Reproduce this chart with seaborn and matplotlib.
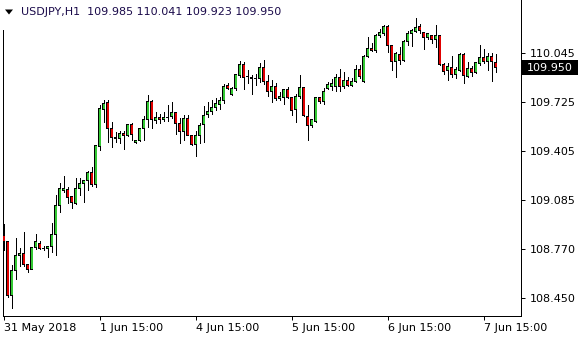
import numpy as np
import pandas as pd
import matplotlib
matplotlib.use("Agg")
import matplotlib.pyplot as plt
import matplotlib.transforms as mtransforms
from matplotlib.patches import Rectangle, Polygon
import seaborn as sns

symbol = "USDJPY,H1"

opens = [108.854, 108.821, 108.468, 108.628, 108.726, 108.737, 108.671, 108.637, 108.778, 108.806,
         108.773, 108.770, 108.784, 108.865, 109.053, 109.153, 109.158, 109.108, 109.064, 109.160,
         109.194, 109.212, 109.268, 109.186, 109.435, 109.680, 109.724, 109.555, 109.490, 109.490,
         109.522, 109.507, 109.581, 109.464, 109.474, 109.555, 109.609, 109.731, 109.607, 109.628,
         109.614, 109.627, 109.630, 109.659, 109.587, 109.533, 109.620, 109.511, 109.448, 109.508,
         109.578, 109.643, 109.663, 109.690, 109.711, 109.739, 109.836, 109.778, 109.811, 109.897,
         109.967, 109.889, 109.887, 109.876, 109.879, 109.952, 109.859, 109.794, 109.830, 109.747,
         109.758, 109.809, 109.757, 109.674, 109.762, 109.822, 109.634, 109.573, 109.599, 109.757,
         109.729, 109.814, 109.830, 109.827, 109.887, 109.830, 109.867, 109.835, 109.861, 109.939,
         109.859, 110.022, 110.076, 110.060, 110.158, 110.169, 110.216, 110.097, 109.988, 110.038,
         109.996, 110.120, 110.172, 110.184, 110.216, 110.177, 110.146, 110.162, 110.134, 110.156,
         109.971, 109.930, 109.952, 109.906, 109.934, 110.037, 109.895, 109.945, 109.917, 109.978,
         110.017, 109.988, 110.025, 109.985]

highs = [108.930, 108.823, 108.665, 108.839, 108.774, 108.882, 108.672, 108.784, 108.865, 108.823,
         108.788, 108.790, 108.936, 109.121, 109.197, 109.244, 109.171, 109.110, 109.229, 109.233,
         109.218, 109.277, 109.305, 109.446, 109.706, 109.739, 109.739, 109.598, 109.529, 109.537,
         109.537, 109.583, 109.587, 109.479, 109.559, 109.635, 109.772, 109.739, 109.661, 109.646,
         109.663, 109.706, 109.726, 109.660, 109.622, 109.641, 109.641, 109.512, 109.537, 109.589,
         109.700, 109.726, 109.742, 109.749, 109.760, 109.843, 109.851, 109.822, 109.908, 109.993,
         109.987, 109.934, 109.900, 109.908, 109.980, 110.002, 109.900, 109.869, 109.850, 109.791,
         109.809, 109.824, 109.758, 109.781, 109.900, 109.823, 109.704, 109.610, 109.758, 109.761,
         109.817, 109.856, 109.878, 109.910, 109.944, 109.921, 109.889, 109.879, 109.970, 109.964,
         110.029, 110.146, 110.110, 110.169, 110.204, 110.230, 110.230, 110.098, 110.051, 110.081,
         110.132, 110.190, 110.203, 110.271, 110.234, 110.178, 110.177, 110.163, 110.227, 110.157,
         109.977, 109.982, 110.025, 109.952, 110.047, 110.047, 109.988, 109.960, 109.988, 110.097,
         110.069, 110.047, 110.043, 110.041]

lows = [108.763, 108.458, 108.387, 108.572, 108.660, 108.660, 108.617, 108.636, 108.769, 108.769,
        108.763, 108.719, 108.751, 108.730, 109.012, 109.142, 109.070, 109.034, 109.063, 109.121,
        109.073, 109.153, 109.181, 109.173, 109.414, 109.598, 109.464, 109.431, 109.464, 109.457,
        109.420, 109.505, 109.479, 109.457, 109.470, 109.479, 109.560, 109.559, 109.587, 109.587,
        109.602, 109.602, 109.619, 109.518, 109.462, 109.479, 109.508, 109.446, 109.372, 109.459,
        109.464, 109.630, 109.648, 109.674, 109.678, 109.718, 109.811, 109.772, 109.804, 109.891,
        109.811, 109.848, 109.778, 109.834, 109.853, 109.840, 109.768, 109.729, 109.739, 109.737,
        109.716, 109.752, 109.640, 109.596, 109.751, 109.632, 109.478, 109.563, 109.596, 109.719,
        109.713, 109.809, 109.804, 109.796, 109.796, 109.815, 109.833, 109.830, 109.856, 109.879,
        109.856, 110.019, 110.056, 110.052, 110.149, 110.162, 110.053, 109.934, 109.891, 109.973,
        109.995, 110.094, 110.091, 110.183, 110.173, 110.070, 110.134, 110.108, 110.086, 109.966,
        109.908, 109.869, 109.891, 109.880, 109.928, 109.848, 109.891, 109.895, 109.913, 109.967,
        109.978, 109.934, 109.865, 109.923]

closes = [108.821, 108.463, 108.632, 108.729, 108.737, 108.669, 108.637, 108.780, 108.815, 108.773,
          108.775, 108.787, 108.865, 109.055, 109.164, 109.161, 109.106, 109.070, 109.164, 109.197,
          109.212, 109.268, 109.186, 109.440, 109.685, 109.718, 109.555, 109.496, 109.498, 109.522,
          109.507, 109.581, 109.516, 109.477, 109.555, 109.609, 109.731, 109.609, 109.626, 109.614,
          109.628, 109.628, 109.659, 109.587, 109.533, 109.620, 109.509, 109.448, 109.511, 109.576,
          109.641, 109.667, 109.693, 109.713, 109.739, 109.830, 109.815, 109.815, 109.902, 109.967,
          109.887, 109.891, 109.882, 109.879, 109.952, 109.859, 109.794, 109.830, 109.747, 109.765,
          109.809, 109.755, 109.671, 109.762, 109.822, 109.635, 109.573, 109.609, 109.757, 109.729,
          109.794, 109.841, 109.845, 109.887, 109.825, 109.867, 109.835, 109.861, 109.939, 109.889,
          110.022, 110.076, 110.061, 110.162, 110.180, 110.217, 110.095, 109.988, 110.040, 109.999,
          110.122, 110.173, 110.190, 110.214, 110.193, 110.143, 110.169, 110.134, 110.156, 109.967,
          109.923, 109.960, 109.906, 109.939, 110.037, 109.897, 109.945, 109.917, 109.982, 110.017,
          109.988, 110.025, 109.988, 109.950]

tick_bars = [0, 24, 48, 72, 96, 120]
tick_labels = ["31 May 2018", "1 Jun 15:00", "4 Jun 15:00", "5 Jun 15:00", "6 Jun 15:00", "7 Jun 15:00"]
price_ticks = [110.045, 109.725, 109.405, 109.085, 108.770, 108.450]

sns.set_theme(style="white")
plt.rcParams['font.family'] = ['DejaVu Sans']

W, H = 580, 340
px_per_bar = 4.0
px_per_unit = 153.6
one_px = 1.0 / px_per_unit

df = pd.DataFrame({"bar": np.arange(len(opens)), "open": opens, "high": highs,
                   "low": lows, "close": closes})
df["up"] = df["close"] >= df["open"]
df["top"] = df[["open", "close"]].max(axis=1)
df["bottom"] = df[["open", "close"]].min(axis=1)

fig = plt.figure(figsize=(W / 100, H / 100), dpi=100, facecolor="white")
# plot frame: left 3px, right 521px, top 0px, bottom 315.5px
ax_left, ax_right = 3.0, 521.0
ax = fig.add_axes([ax_left / W, 1 - 315.5 / H, (ax_right - ax_left) / W, 315.5 / H])
ax.set_facecolor("white")
ax.set_xlim((ax_left - 3.5) / px_per_bar, (ax_right - 3.5) / px_per_bar)
ax.set_ylim(110.045 - (315.5 - 53) / px_per_unit, 110.045 + 53 / px_per_unit)

lw = 0.72
green, red = "#33c833", "#e00000"
# wicks
ax.vlines(df["bar"], df["low"], df["high"], color="black", lw=lw, zorder=2,
          antialiased=False)
# black body frame (3 px wide, at least 1 px tall)
ax.bar(df["bar"], (df["top"] - df["bottom"]) + one_px, bottom=df["bottom"] - 0.5 * one_px,
       width=0.75, color="black", linewidth=0, zorder=3)
# coloured body fill (2 px) inside the frame
inner = df[(df["top"] - df["bottom"]) > one_px]
ax.bar(inner["bar"] + 0.125, (inner["top"] - inner["bottom"]) - one_px,
       bottom=inner["bottom"] + 0.5 * one_px, width=0.5,
       color=np.where(inner["up"], green, red), linewidth=0, zorder=4)

# axes styling
for side in ["left", "right", "bottom"]:
    ax.spines[side].set_visible(True)
    ax.spines[side].set_color("black")
    ax.spines[side].set_linewidth(lw)
ax.spines["top"].set_visible(False)
ax.grid(False)

ax.yaxis.tick_right()
ax.set_yticks(price_ticks)
ax.set_yticklabels([f"{p:.3f}" for p in price_ticks])
ax.tick_params(axis="y", which="both", right=True, left=False, length=3, width=lw,
               direction="out", pad=3.5, labelsize=8, colors="black")
ax.set_xticks(tick_bars)
ax.set_xticklabels(tick_labels, ha="left")
ax.tick_params(axis="x", which="both", bottom=True, top=False, length=3, width=lw,
               direction="out", pad=2.5, labelsize=8, colors="black")
for lab in ax.get_xticklabels():
    lab.set_horizontalalignment("left")

# current price marker on the right scale
last_price = closes[-1]
trans = mtransforms.blended_transform_factory(ax.transAxes, ax.transData)
ax_w_px = ax_right - ax_left
ax.add_patch(Rectangle((1 + 1.0 / ax_w_px, last_price - 7.5 * one_px),
                       56 / ax_w_px, 15 * one_px, transform=trans,
                       facecolor="black", edgecolor="none", clip_on=False, zorder=5))
ax.text(1 + 6.0 / ax_w_px, last_price, f"{last_price:.3f}", transform=trans,
        ha="left", va="center", color="white", fontsize=8, zorder=6, clip_on=False)

# header with symbol and last bar OHLC
fig.add_artist(Rectangle((0, 1 - 30 / H), 12 / W, 30 / H, transform=fig.transFigure,
                         facecolor="white", edgecolor="none", zorder=8))
fig.add_artist(Polygon([(5 / W, 1 - 9.5 / H), (13 / W, 1 - 9.5 / H), (9 / W, 1 - 14.5 / H)],
                       closed=True, transform=fig.transFigure, facecolor="black",
                       edgecolor="none", zorder=9))
header = f"{symbol}  {opens[-1]:.3f} {highs[-1]:.3f} {lows[-1]:.3f} {closes[-1]:.3f}"
fig.text(21 / W, 1 - 12 / H, header, ha="left", va="center", fontsize=8,
         color="#1a0a4a", zorder=9)

fig.savefig("out.png", dpi=100, facecolor="white")
